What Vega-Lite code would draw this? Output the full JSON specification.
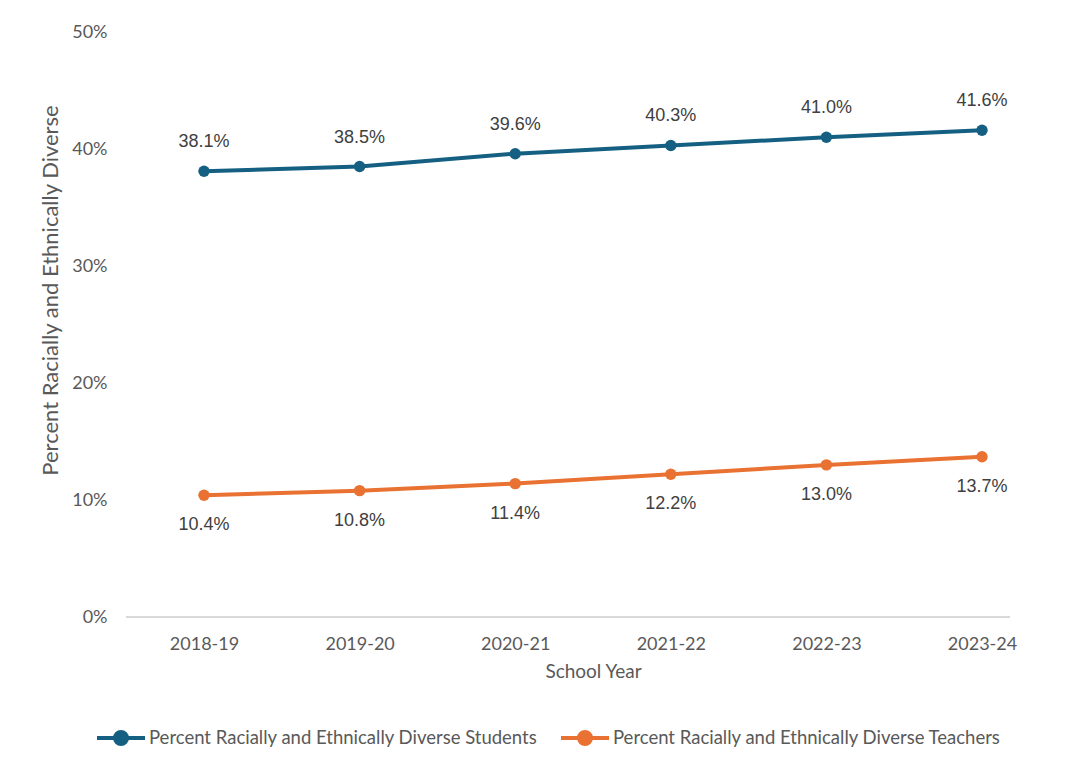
{
  "$schema": "https://vega.github.io/schema/vega-lite/v6.json",
  "width": 884,
  "height": 585,
  "autosize": {"type": "none"},
  "padding": {"left": 126, "top": 32, "right": 63, "bottom": 148},
  "background": "white",
  "config": {
    "view": {"stroke": null},
    "font": "Lato",
    "axis": {"labelColor": "#595959", "titleColor": "#595959", "titleFontWeight": "normal", "labelFont": "Lato", "titleFont": "Lato"},
    "legend": {"labelColor": "#595959", "labelFont": "Lato"}
  },
  "data": {
    "values": [
      {"year": "2018-19", "series": "Percent Racially and Ethnically Diverse Students", "value": 0.381},
      {"year": "2019-20", "series": "Percent Racially and Ethnically Diverse Students", "value": 0.385},
      {"year": "2020-21", "series": "Percent Racially and Ethnically Diverse Students", "value": 0.396},
      {"year": "2021-22", "series": "Percent Racially and Ethnically Diverse Students", "value": 0.403},
      {"year": "2022-23", "series": "Percent Racially and Ethnically Diverse Students", "value": 0.410},
      {"year": "2023-24", "series": "Percent Racially and Ethnically Diverse Students", "value": 0.416},
      {"year": "2018-19", "series": "Percent Racially and Ethnically Diverse Teachers", "value": 0.104},
      {"year": "2019-20", "series": "Percent Racially and Ethnically Diverse Teachers", "value": 0.108},
      {"year": "2020-21", "series": "Percent Racially and Ethnically Diverse Teachers", "value": 0.114},
      {"year": "2021-22", "series": "Percent Racially and Ethnically Diverse Teachers", "value": 0.122},
      {"year": "2022-23", "series": "Percent Racially and Ethnically Diverse Teachers", "value": 0.130},
      {"year": "2023-24", "series": "Percent Racially and Ethnically Diverse Teachers", "value": 0.137}
    ]
  },
  "layer": [
    {
      "mark": {"type": "rule", "color": "#d9d9d9", "strokeWidth": 1.5},
      "encoding": {"y": {"datum": 0, "type": "quantitative"}}
    },
    {
      "mark": {"type": "line", "strokeWidth": 4},
      "encoding": {
        "x": {"field": "year", "type": "ordinal", "sort": null,
          "scale": {"type": "point", "range": [78, 856], "padding": 0},
          "axis": {"domain": false, "ticks": false, "grid": false, "labelAngle": 0, "labelFontSize": 18, "labelPadding": 18, "title": "School Year", "titleFontSize": 19, "titlePadding": 9}},
        "y": {"field": "value", "type": "quantitative",
          "scale": {"domain": [0, 0.5], "nice": false},
          "axis": {"domain": false, "ticks": false, "grid": false, "values": [0, 0.1, 0.2, 0.3, 0.4, 0.5], "format": ".0%", "labelFontSize": 18, "labelPadding": 19, "title": "Percent Racially and Ethnically Diverse", "titleFontSize": 22, "titlePadding": 9, "titleY": 258}},
        "color": {"field": "series", "type": "nominal",
          "scale": {"domain": ["Percent Racially and Ethnically Diverse Students", "Percent Racially and Ethnically Diverse Teachers"], "range": ["#156082", "#E97132"]},
          "legend": {"title": null, "orient": "none", "direction": "horizontal", "legendX": -31, "legendY": 680, "columnPadding": 15, "labelFontSize": 18.5, "labelOffset": 2, "labelLimit": 600,
            "symbolType": "M-1,0H1M-0.25,0A0.25,0.25,0,1,0,0.25,0A0.25,0.25,0,1,0,-0.25,0",
            "symbolSize": 2304, "symbolStrokeWidth": 4}}
      }
    },
    {
      "mark": {"type": "point", "filled": true, "size": 130, "opacity": 1},
      "encoding": {
        "x": {"field": "year", "type": "ordinal", "sort": null},
        "y": {"field": "value", "type": "quantitative"},
        "color": {"field": "series", "type": "nominal"}
      }
    },
    {
      "transform": [{"filter": "datum.series === 'Percent Racially and Ethnically Diverse Students'"}],
      "mark": {"type": "text", "dy": -29, "font": "Liberation Sans", "fontSize": 18, "color": "#404040"},
      "encoding": {
        "x": {"field": "year", "type": "ordinal", "sort": null},
        "y": {"field": "value", "type": "quantitative"},
        "text": {"field": "value", "type": "quantitative", "format": ".1%"}
      }
    },
    {
      "transform": [{"filter": "datum.series === 'Percent Racially and Ethnically Diverse Teachers'"}],
      "mark": {"type": "text", "dy": 30, "font": "Liberation Sans", "fontSize": 18, "color": "#404040"},
      "encoding": {
        "x": {"field": "year", "type": "ordinal", "sort": null},
        "y": {"field": "value", "type": "quantitative"},
        "text": {"field": "value", "type": "quantitative", "format": ".1%"}
      }
    }
  ]
}
